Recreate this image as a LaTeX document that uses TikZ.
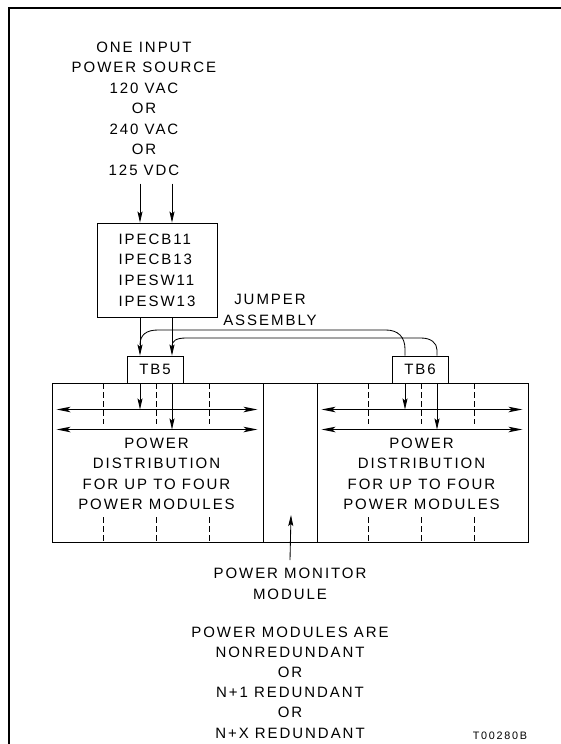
\documentclass[tikz,border=0pt]{standalone}
\usepackage{fontspec}
\setmainfont{Liberation Sans}[LetterSpace=13]
\newfontfamily\tagfont{Liberation Sans}[LetterSpace=16]
\usetikzlibrary{arrows.meta,calc}
\begin{document}
\begin{tikzpicture}[x=1pt,y=-1pt, line width=0.85pt,
  lbl/.style={align=center, inner sep=0pt, font=\fontsize{15}{20.5}\selectfont},
  boxn/.style={draw, inner sep=0pt},
  arr/.style={-{Stealth[length=11pt,width=5pt,inset=2pt]}},
  darr/.style={{Stealth[length=14pt,width=5.5pt,inset=3.5pt]}-{Stealth[length=14pt,width=5.5pt,inset=3.5pt]}},
  dsh/.style={dash pattern=on 6pt off 3pt}]
\useasboundingbox (0,0) rectangle (561,744);
% frame
\draw[line width=1.3pt] (9,744) -- (9,8) -- (561,8);

% source text
\node[lbl] (src) at (144,108.5) {ONE INPUT\\POWER SOURCE\\120 VAC\\OR\\240 VAC\\OR\\125 VDC};

% breaker box
\node[boxn, minimum width=120pt, minimum height=94pt, align=left,
      font=\fontsize{15}{20.7}\selectfont] (ipe) at (157,270)
      {IPECB11\\IPECB13\\IPESW11\\IPESW13};

% terminal blocks
\node[boxn, minimum width=56pt, minimum height=27pt, font=\fontsize{15}{17}\selectfont] (tb5) at (155,369.5) {TB5};
\node[boxn, minimum width=56pt, minimum height=27pt, font=\fontsize{15}{17}\selectfont] (tb6) at (420,369.5) {TB6};

% rack sections
\node[boxn, minimum width=211pt, minimum height=159pt] (lsec) at (157.5,462.5) {};
\node[boxn, minimum width=54pt, minimum height=159pt] (msec) at (290,462.5) {};
\node[boxn, minimum width=211pt, minimum height=159pt] (rsec) at (422.5,462.5) {};

\node[lbl] (ltext) at (156.5,474) {POWER\\DISTRIBUTION\\FOR UP TO FOUR\\POWER MODULES};
\node[lbl] (rtext) at (421.5,474) {POWER\\DISTRIBUTION\\FOR UP TO FOUR\\POWER MODULES};

% jumper label
\node[lbl] (jmp) at (270,310) {JUMPER\\ASSEMBLY};

% power monitor label
\node[lbl] (pmm) at (290,584) {POWER MONITOR\\MODULE};
\coordinate (pmtip) at (291,515);

% bottom note
\node[lbl, font=\fontsize{15}{20.2}\selectfont] (note) at (290,682.5)
  {POWER MODULES ARE\\NONREDUNDANT\\OR\\N+1 REDUNDANT\\OR\\N+X REDUNDANT};
\node[inner sep=0pt, font=\tagfont\fontsize{10.8}{12}\selectfont] (tag) at (500,735.5) {T00280B};

% helper coordinates
\coordinate (a1) at (140,0);
\coordinate (a2) at (172,0);
\coordinate (b1) at (405,0);
\coordinate (b2) at (437,0);
\coordinate (h1) at (0,409.5);
\coordinate (h2) at (0,429.5);

% input arrows
\draw[arr] ([yshift=-8pt]a1 |- src.south) -- (a1 |- ipe.north);
\draw[arr] ([yshift=-8pt]a2 |- src.south) -- (a2 |- ipe.north);

% ipe to TB5
\draw[arr] (a1 |- ipe.south) -- (a1 |- tb5.north);
\draw[arr] (a2 |- ipe.south) -- (a2 |- tb5.north);

% jumper wires
\coordinate (jA) at (140,345);
\coordinate (jB) at (172,346);
\draw (jA) .. controls (140,335) and (146,330) .. (158,330) -- (386,330)
      .. controls (398,330) and (405,337) .. (405,349) -- (b1 |- tb6.north);
\draw (jB) .. controls (172,341) and (176,338) .. (186,338) -- (421,338)
      .. controls (431,338) and (437,343) .. (437,350) -- (b2 |- tb6.north);

% feeds into buses
\draw[arr] (a1 |- tb5.south) -- (a1 |- h1);
\draw[arr] (a2 |- tb5.south) -- (a2 |- h2);
\draw[arr] (b1 |- tb6.south) -- (b1 |- h1);
\draw[arr] (b2 |- tb6.south) -- (b2 |- h2);

% buses
\draw[darr] ([xshift=5pt]lsec.west |- h1) -- ([xshift=-6pt]lsec.east |- h1);
\draw[darr] ([xshift=5pt]lsec.west |- h2) -- ([xshift=-6pt]lsec.east |- h2);
\draw[darr] ([xshift=5pt]rsec.west |- h1) -- ([xshift=-6pt]rsec.east |- h1);
\draw[darr] ([xshift=5pt]rsec.west |- h2) -- ([xshift=-6pt]rsec.east |- h2);

% module separators (dashed)
\foreach \x in {103,156,209,368,421,474}{
  \draw[dsh] (\x,383) -- (\x,424);
  \draw[dsh] (\x,517) -- (\x,542);
}

% power monitor arrow
\draw[arr] ([yshift=8pt]pmm.north) -- (pmtip);
\end{tikzpicture}
\end{document}
